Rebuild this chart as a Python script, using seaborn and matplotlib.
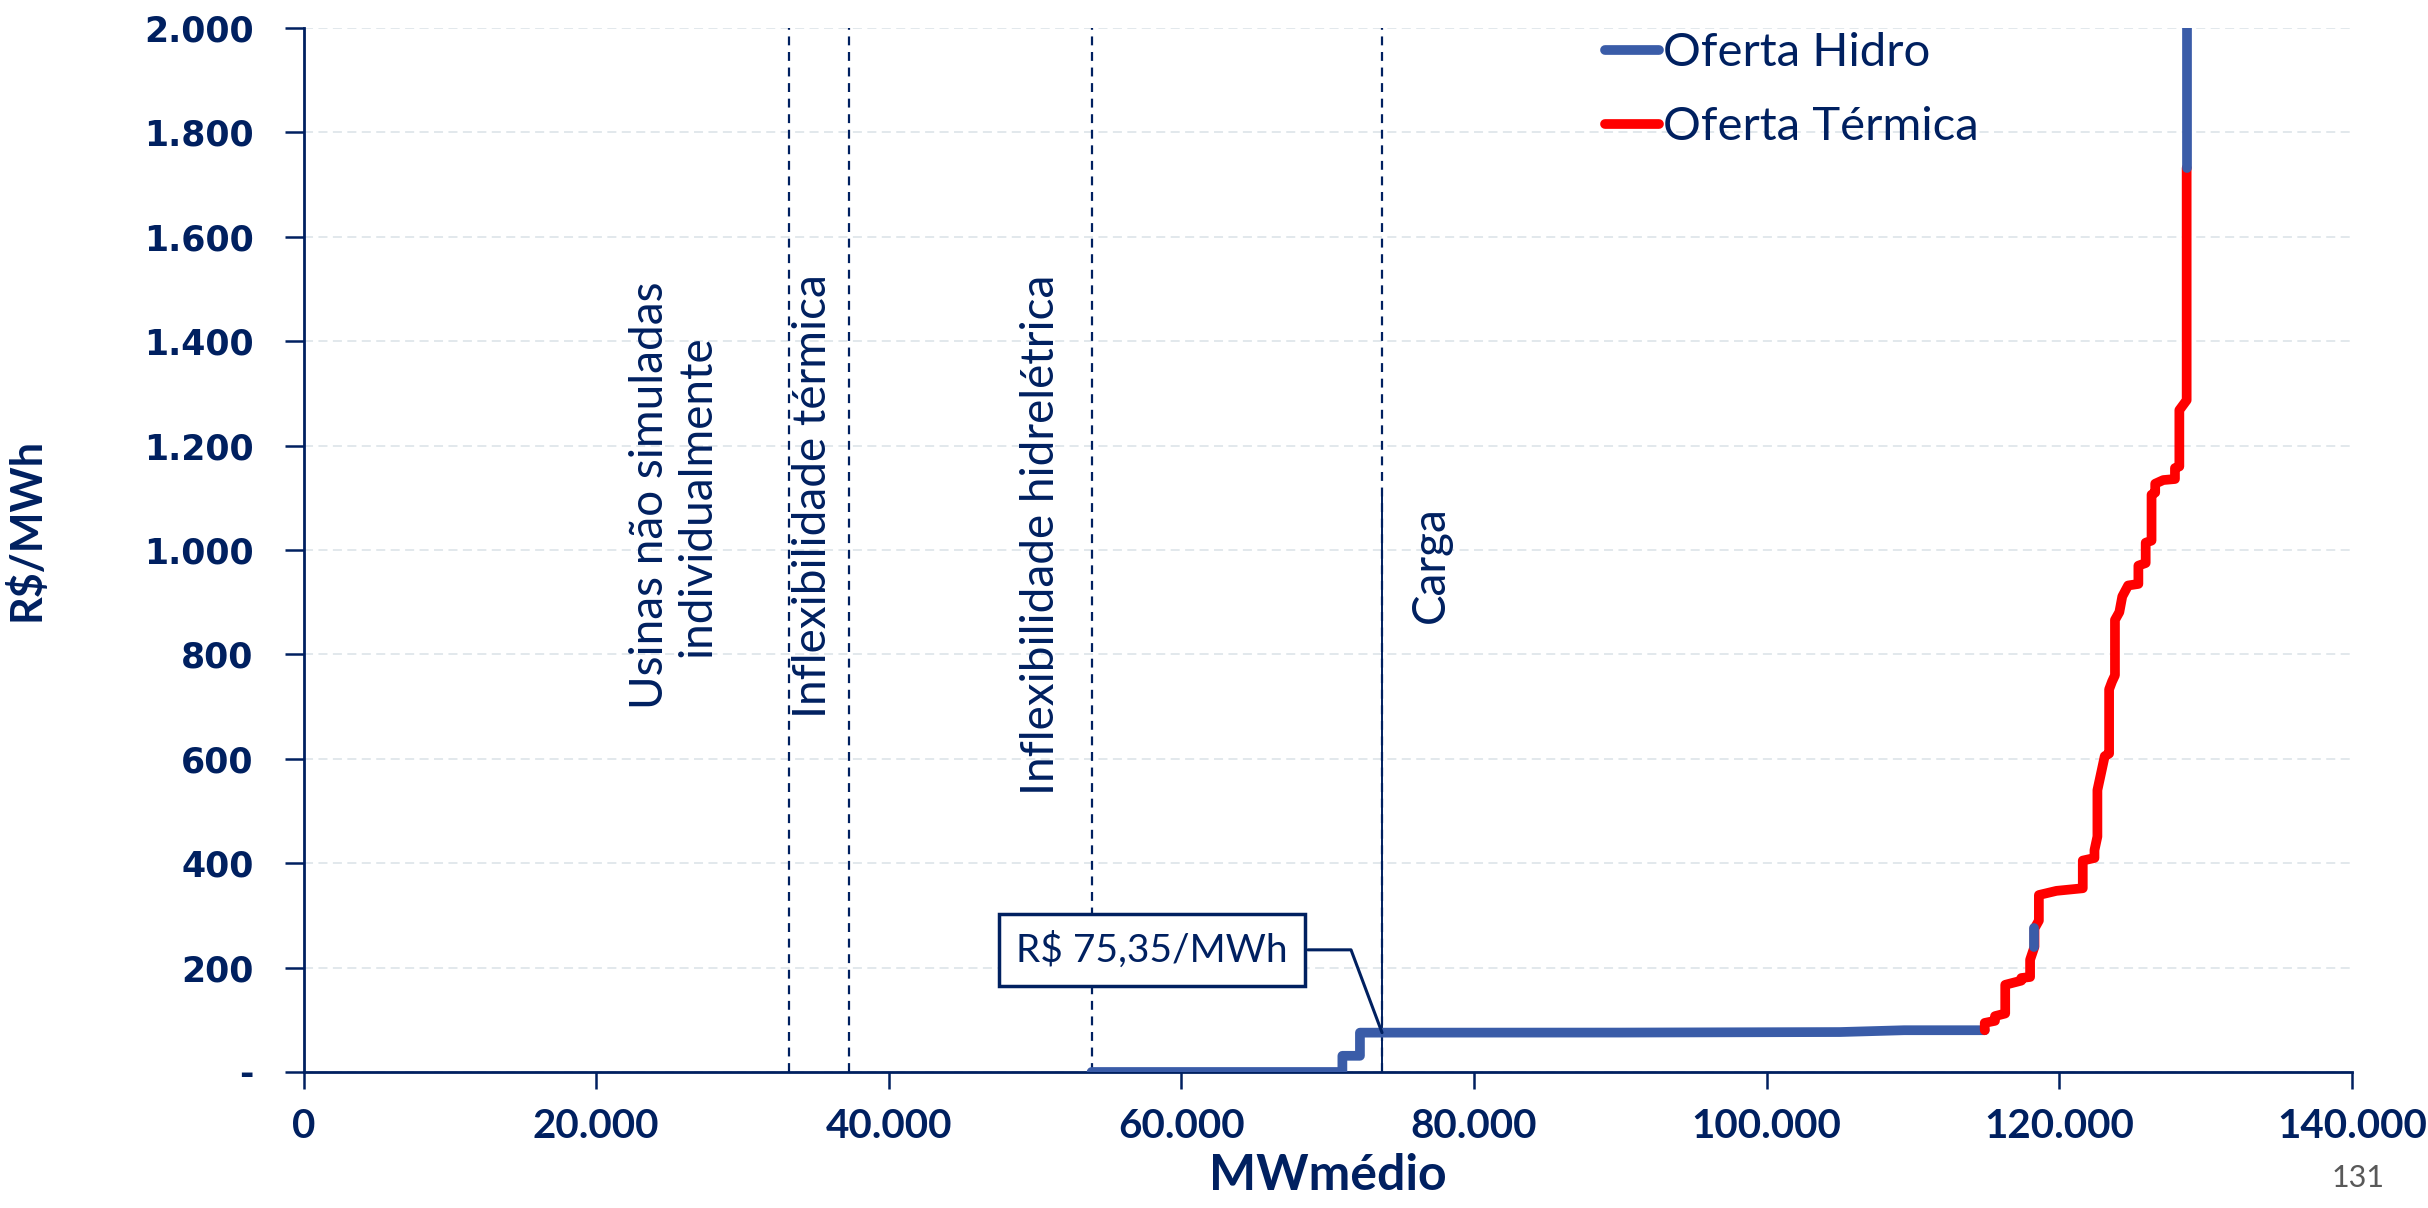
import matplotlib
matplotlib.use('Agg')
import matplotlib.pyplot as plt
import matplotlib.ticker as mticker
import seaborn as sns
import pandas as pd

# hydro offer curve (MWmedio, R$/MWh)
hydro_mw = [53860, 71000, 71000, 72200, 72200, 90000, 105000, 109400, 114900]
hydro_price = [0, 0, 31, 31, 75.35, 75.5, 76.5, 80, 80]
# short hydro pieces inside the thermal stack
hydro_mid_mw = [118300, 118300]
hydro_mid_price = [240, 275]
hydro_top_mw = [128700, 128700]
hydro_top_price = [1732, 2000]

# thermal offer curve
thermal_mw = [114900, 114900, 115600, 115600, 116300, 116300, 117400, 117400, 118000, 118000,
              118300, 118300, 118600, 118600, 119800, 121600, 121600, 122400, 122400, 122600,
              122600, 122900, 123100, 123400, 123400, 123600, 123800, 123800, 124100, 124300,
              124700, 125400, 125400, 125900, 125900, 126300, 126300, 126550, 126550, 127100,
              127900, 127900, 128200, 128200, 128700, 128700]
thermal_price = [80, 94, 98, 107, 112, 167, 175, 180, 182, 215,
                 240, 275, 290, 339, 347, 352, 405, 410, 425, 451,
                 540, 579, 605, 610, 733, 748, 760, 866, 881, 911,
                 932, 935, 970, 975, 1014, 1018, 1106, 1110, 1127, 1134,
                 1136, 1157, 1160, 1268, 1287, 1732]

# reference lines
ref_mw = [33200, 37250, 53860, 73710]
ref_labels = ['Usinas não simuladas\nindividualmente', 'Inflexibilidade térmica',
              'Inflexibilidade hidrelétrica', 'Carga']
carga_mw = 73710
carga_price = 75.35
carga_solid_top = 1110

x_ticks = [0, 20000, 40000, 60000, 80000, 100000, 120000, 140000]
y_ticks = [0, 200, 400, 600, 800, 1000, 1200, 1400, 1600, 1800, 2000]

NAVY = '#002060'
HYDRO = '#3a5ca8'
THERM = '#ff0000'
LW = 7

sns.set_theme(style='white')
plt.rcParams['font.family'] = ['Lato', 'DejaVu Sans']

fig = plt.figure(figsize=(24.28, 12.08), dpi=100)
ax = fig.add_axes([0.125, 0.1126, 0.8437, 0.8642])

ax.yaxis.grid(True, color='#dfe6ea', linestyle=(0, (5, 3)), linewidth=1.3)
ax.set_axisbelow(True)

for xv in ref_mw:
    ax.axvline(xv, color=NAVY, linestyle=(0, (4, 3)), linewidth=1.6, zorder=2)
ax.plot([carga_mw, carga_mw], [0, carga_solid_top], color=NAVY, linewidth=1.4, zorder=2)

df_h = pd.DataFrame({'mw': hydro_mw, 'price': hydro_price})
df_t = pd.DataFrame({'mw': thermal_mw, 'price': thermal_price})
sns.lineplot(data=df_h, x='mw', y='price', sort=False, estimator=None, color=HYDRO,
             linewidth=LW, ax=ax, label='Oferta Hidro', zorder=4,
             solid_capstyle='round', solid_joinstyle='round')
sns.lineplot(data=df_t, x='mw', y='price', sort=False, estimator=None, color=THERM,
             linewidth=LW, ax=ax, label='Oferta Térmica', zorder=4,
             solid_capstyle='round', solid_joinstyle='round')
sns.lineplot(x=hydro_mid_mw, y=hydro_mid_price, sort=False, estimator=None, color=HYDRO,
             linewidth=LW, ax=ax, zorder=5)
sns.lineplot(x=hydro_top_mw, y=hydro_top_price, sort=False, estimator=None, color=HYDRO,
             linewidth=LW, ax=ax, zorder=5)

ax.set_xlim(0, 140000)
ax.set_ylim(0, 2000)
ax.set_xticks(x_ticks)
ax.set_yticks(y_ticks)

ax.xaxis.set_major_formatter(mticker.FuncFormatter(lambda v, p: '0' if v == 0 else f'{v:,.0f}'.replace(',', '.')))
ax.yaxis.set_major_formatter(mticker.FuncFormatter(lambda v, p: '-' if v == 0 else f'{v:,.0f}'.replace(',', '.')))

for lab in ax.get_xticklabels():
    lab.set_fontsize(29)
    lab.set_fontweight('bold')
    lab.set_color(NAVY)
for lab in ax.get_yticklabels():
    lab.set_fontsize(25)
    lab.set_fontweight('bold')
    lab.set_color(NAVY)
    lab.set_family(['DejaVu Sans'])

ax.tick_params(axis='x', direction='out', length=12, width=1.8, color=NAVY, pad=14, bottom=True)
ax.tick_params(axis='y', direction='out', length=14, width=1.8, color=NAVY, pad=22, left=True)

for side in ['top', 'right']:
    ax.spines[side].set_visible(False)
for side in ['left', 'bottom']:
    ax.spines[side].set_color(NAVY)
    ax.spines[side].set_linewidth(2)

ax.set_xlabel('MWmédio', fontsize=36, fontweight='bold', color=NAVY, labelpad=6)
ax.set_ylabel('R$/MWh', fontsize=31, fontweight='bold', color=NAVY)
ax.yaxis.set_label_coords(-0.1255, 0.52)

# vertical annotations
txt_pos = [(25290, 1104), (34800, 1104), (50370, 1030), (77040, 973)]
for (tx, ty), lab in zip(txt_pos, ref_labels):
    ax.text(tx, ty, lab, rotation=90, ha='center', va='center', fontsize=33,
            color=NAVY, linespacing=1.15)

# marginal price callout
ax.text(58000, 234, 'R$ 75,35/MWh', ha='center', va='center', fontsize=28, color=NAVY,
        bbox=dict(boxstyle='square,pad=0.45', facecolor='white', edgecolor=NAVY, linewidth=2.5),
        zorder=6)
ax.plot([68650, 71590, carga_mw], [234, 234, carga_price], color=NAVY, linewidth=2.2, zorder=6)

leg = ax.legend(loc='upper left', bbox_to_anchor=(0.626, 1.014), frameon=False, fontsize=34,
                handlelength=1.15, handletextpad=0.08, labelspacing=0.68, borderaxespad=0)
for t in leg.get_texts():
    t.set_color(NAVY)
for h in leg.get_lines():
    h.set_linewidth(LW)
    h.set_solid_capstyle('round')

fig.text(0.9712, 0.013, '131', ha='center', va='bottom', fontsize=22, color='#595959')

fig.savefig('out.png', dpi=100)
